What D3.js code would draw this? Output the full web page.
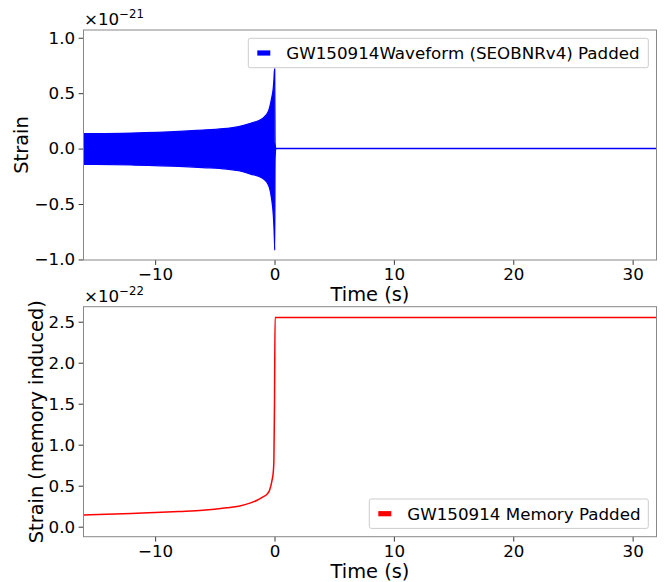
<!DOCTYPE html>
<html><head><meta charset="utf-8">
<script src="https://cdn.jsdelivr.net/npm/d3@7"></script>
<style>body{margin:0;background:#fff} text{font-family:"DejaVu Sans",sans-serif;fill:#000}</style>
</head><body><svg id="c" width="665" height="582"></svg>
<script>
// ---- data ----
const xTicks = [-10, 0, 10, 20, 30];
const strainTicks = [-1, -0.5, 0, 0.5, 1];
const memTicks = [0, 0.5, 1, 1.5, 2, 2.5];
// envelope of the dense inspiral oscillation (units of 1e-21)
const envTime  = [-16, -12, -8, -6, -4, -3, -2, -1, -0.5, -0.25, -0.1, -0.05, 0, 0.02, 0.05, 0.1];
const envUpper = [0.135, 0.14, 0.155, 0.168, 0.182, 0.198, 0.228, 0.272, 0.34, 0.45, 0.55, 0.62, 0.72, 0.72, 0.05, 0];
const envLower = [-0.142, -0.148, -0.16, -0.171, -0.185, -0.2, -0.23, -0.268, -0.33, -0.45, -0.6, -0.7, -0.85, -0.916, -0.1, 0];
// padded (post-merger) part
const padTime = [0.1, 32];
const padStrain = [0, 0];
// memory (units of 1e-22)
const memTime   = [-16, -12, -10, -8, -6, -4, -3, -2, -1.5, -1, -0.6, -0.4, -0.2, -0.1, -0.05, 0, 0.05, 32];
const memStrain = [0.143, 0.16, 0.172, 0.185, 0.2, 0.23, 0.25, 0.29, 0.32, 0.36, 0.4, 0.45, 0.57, 0.67, 0.81, 1.5, 2.55, 2.55];

const svg = d3.select("#c");
const L = 83.5, R = 656.5;
const fmt1 = d3.format(".1f");

function panel(top, bottom, yDomain, yTicks, id) {
  const x = d3.scaleLinear().domain([-16, 32]).range([L, R]);
  const y = d3.scaleLinear().domain(yDomain).range([bottom, top]);
  svg.append("clipPath").attr("id", id).append("rect")
    .attr("x", L).attr("y", top).attr("width", R - L).attr("height", bottom - top);
  const g = svg.append("g");
  const data = g.append("g").attr("clip-path", `url(#${id})`);
  const ax = svg.append("g").attr("transform", `translate(0,${bottom})`)
    .call(d3.axisBottom(x).tickValues(xTicks).tickFormat(d3.format("d")).tickSize(4.9).tickPadding(3.2));
  const ay = svg.append("g").attr("transform", `translate(${L},0)`)
    .call(d3.axisLeft(y).tickValues(yTicks).tickFormat(fmt1).tickSize(4.9).tickPadding(3.5));
  [ax, ay].forEach(a => {
    a.select(".domain").remove();
    a.selectAll(".tick line").attr("stroke", "#222").attr("stroke-width", 0.9);
    a.selectAll(".tick text").attr("font-size", 16.7).attr("font-family", "DejaVu Sans").attr("fill", "#000");
  });
  svg.append("rect").attr("x", L).attr("y", top).attr("width", R - L).attr("height", bottom - top)
    .attr("fill", "none").attr("stroke", "#888").attr("stroke-width", 1);
  return {x, y, data};
}

function offsetText(xp, yp, exp) {
  const t = svg.append("text").attr("x", xp).attr("y", yp).attr("font-size", 16.7);
  t.append("tspan").text("×10");
  t.append("tspan").attr("font-size", 11.7).attr("dy", -7).text(exp);
}

function legend(x0, y0, w, h, color, label) {
  svg.append("rect").attr("x", x0).attr("y", y0).attr("width", w).attr("height", h).attr("rx", 2)
    .attr("fill", "#fff").attr("fill-opacity", 0.8).attr("stroke", "#ccc").attr("stroke-width", 1);
  svg.append("rect").attr("x", x0 + 9).attr("y", y0 + h / 2 - 2.6).attr("width", 13).attr("height", 5.2).attr("fill", color);
  svg.append("text").attr("x", x0 + 38).attr("y", y0 + h / 2 + 6).attr("font-size", 16.7).text(label);
}

// ---- top panel ----
const p1 = panel(30, 260, [-1.005, 1.07], strainTicks, "clip1");
const env = envTime.map((t, i) => ({t, u: envUpper[i], l: envLower[i]}));
p1.data.append("path").datum(env)
  .attr("d", d3.area().x(d => p1.x(d.t)).y0(d => p1.y(d.l)).y1(d => p1.y(d.u)).curve(d3.curveMonotoneX))
  .attr("fill", "#0000ff").attr("stroke", "#0000ff").attr("stroke-width", 1.2).attr("stroke-linejoin", "round");
p1.data.append("path").datum(padTime.map((t, i) => [t, padStrain[i]]))
  .attr("d", d3.line().x(d => p1.x(d[0])).y(d => p1.y(d[1])))
  .attr("fill", "none").attr("stroke", "#0000ff").attr("stroke-width", 1.5);
offsetText(84, 25, "−21");
svg.append("text").attr("x", 370).attr("y", 300.5).attr("text-anchor", "middle").attr("font-size", 19.4).text("Time (s)");
svg.append("text").attr("transform", "translate(28,145) rotate(-90)").attr("text-anchor", "middle").attr("font-size", 19.4).text("Strain");
legend(248.3, 38.3, 400, 29.4, "#0000ff", "GW150914Waveform (SEOBNRv4) Padded");

// ---- bottom panel ----
const p2 = panel(306.7, 536.7, [-0.122, 2.683], memTicks, "clip2");
p2.data.append("path").datum(memTime.map((t, i) => [t, memStrain[i]]))
  .attr("d", d3.line().x(d => p2.x(d[0])).y(d => p2.y(d[1])).curve(d3.curveMonotoneX))
  .attr("fill", "none").attr("stroke", "#ff0000").attr("stroke-width", 1.5);
offsetText(84, 302, "−22");
svg.append("text").attr("x", 370).attr("y", 577.5).attr("text-anchor", "middle").attr("font-size", 19.4).text("Time (s)");
svg.append("text").attr("transform", "translate(42.5,421.7) rotate(-90)").attr("text-anchor", "middle").attr("font-size", 19.4).text("Strain (memory induced)");
legend(369.3, 499, 279, 29.4, "#ff0000", "GW150914 Memory Padded");
</script></body></html>
